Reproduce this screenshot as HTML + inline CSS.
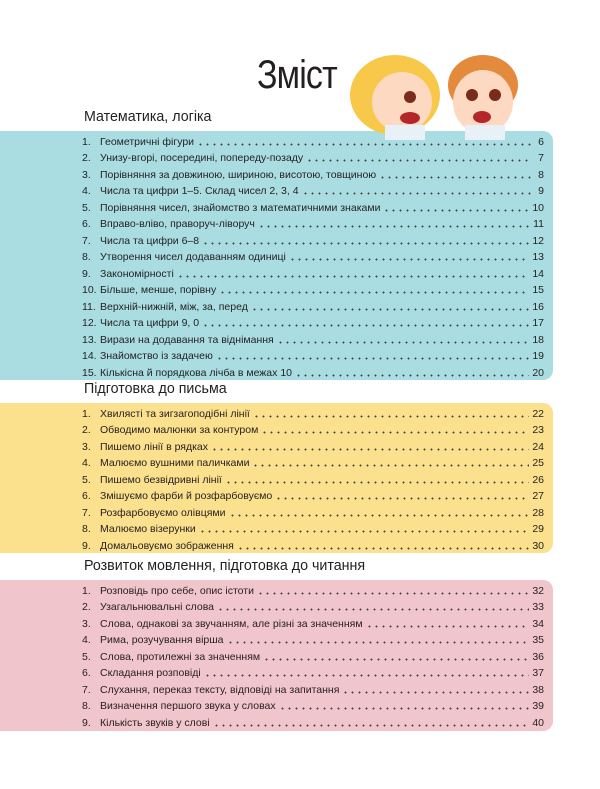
<!DOCTYPE html>
<html><head><meta charset="utf-8"><style>
body{margin:0;width:600px;height:789px;background:#fff;position:relative;overflow:hidden;font-family:"Liberation Sans","DejaVu Sans",sans-serif;color:#231f20}
.panel{position:absolute;left:0;width:553px;border-radius:0 10px 10px 0}
.h{position:absolute;left:84px;font-size:15px;color:#231f20;transform:scaleX(0.95);transform-origin:left}
.sec{position:absolute;left:82px;width:462px}
.r{display:flex;align-items:flex-end;height:16.5px;font-size:10.5px;line-height:13px}
.n{width:18px;flex:none}
.t{flex:none;white-space:nowrap}
.d{flex:1;height:3px;margin:0 3px 3px 3px;background:radial-gradient(circle,#444 0.8px,transparent 1.1px) 0 0/7px 3px repeat-x}
.p{flex:none;text-align:right;min-width:10px}
</style></head><body>
<div class="panel" style="top:131px;height:249px;background:#a9dde1"></div>
<div class="panel" style="top:403px;height:150px;background:#fbe08e"></div>
<div class="panel" style="top:580px;height:151px;background:#f1c5cc"></div>
<div style="position:absolute;left:257px;top:53px;font-size:40px;letter-spacing:-1px;transform:scaleX(0.85);transform-origin:left">Зміст</div>
<svg style="position:absolute;left:340px;top:40px" width="200" height="100">
<ellipse cx="55" cy="55" rx="45" ry="40" fill="#f7c84a"/>
<ellipse cx="62" cy="62" rx="30" ry="30" fill="#fcd9c0"/>
<circle cx="70" cy="57" r="6" fill="#7a2b1a"/>
<ellipse cx="70" cy="78" rx="10" ry="6" fill="#b3262a"/>
<rect x="45" y="85" width="40" height="15" fill="#e8f1f8"/>
<ellipse cx="143" cy="45" rx="35" ry="30" fill="#e48a3c"/>
<ellipse cx="143" cy="62" rx="30" ry="32" fill="#fcd9c0"/>
<circle cx="132" cy="55" r="6" fill="#7a2b1a"/><circle cx="155" cy="55" r="6" fill="#7a2b1a"/>
<ellipse cx="142" cy="77" rx="9" ry="6" fill="#b3262a"/>
<rect x="125" y="85" width="40" height="15" fill="#e8f1f8"/>
</svg>
<div class="h" style="top:108px">Математика, логіка</div>
<div class="sec" style="top:132px">
<div class="r"><span class="n">1.</span><span class="t">Геометричні фігури</span><span class="d"></span><span class="p">6</span></div>
<div class="r"><span class="n">2.</span><span class="t">Унизу-вгорі, посередині, попереду-позаду</span><span class="d"></span><span class="p">7</span></div>
<div class="r"><span class="n">3.</span><span class="t">Порівняння за довжиною, шириною, висотою, товщиною</span><span class="d"></span><span class="p">8</span></div>
<div class="r"><span class="n">4.</span><span class="t">Числа та цифри 1–5. Склад чисел 2, 3, 4</span><span class="d"></span><span class="p">9</span></div>
<div class="r"><span class="n">5.</span><span class="t">Порівняння чисел, знайомство з математичними знаками</span><span class="d"></span><span class="p">10</span></div>
<div class="r"><span class="n">6.</span><span class="t">Вправо-вліво, праворуч-ліворуч</span><span class="d"></span><span class="p">11</span></div>
<div class="r"><span class="n">7.</span><span class="t">Числа та цифри 6–8</span><span class="d"></span><span class="p">12</span></div>
<div class="r"><span class="n">8.</span><span class="t">Утворення чисел додаванням одиниці</span><span class="d"></span><span class="p">13</span></div>
<div class="r"><span class="n">9.</span><span class="t">Закономірності</span><span class="d"></span><span class="p">14</span></div>
<div class="r"><span class="n">10.</span><span class="t">Більше, менше, порівну</span><span class="d"></span><span class="p">15</span></div>
<div class="r"><span class="n">11.</span><span class="t">Верхній-нижній, між, за, перед</span><span class="d"></span><span class="p">16</span></div>
<div class="r"><span class="n">12.</span><span class="t">Числа та цифри 9, 0</span><span class="d"></span><span class="p">17</span></div>
<div class="r"><span class="n">13.</span><span class="t">Вирази на додавання та віднімання</span><span class="d"></span><span class="p">18</span></div>
<div class="r"><span class="n">14.</span><span class="t">Знайомство із задачею</span><span class="d"></span><span class="p">19</span></div>
<div class="r"><span class="n">15.</span><span class="t">Кількісна й порядкова лічба в межах 10</span><span class="d"></span><span class="p">20</span></div>
</div>
<div class="h" style="top:380px">Підготовка до письма</div>
<div class="sec" style="top:404px">
<div class="r"><span class="n">1.</span><span class="t">Хвилясті та зигзагоподібні лінії</span><span class="d"></span><span class="p">22</span></div>
<div class="r"><span class="n">2.</span><span class="t">Обводимо малюнки за контуром</span><span class="d"></span><span class="p">23</span></div>
<div class="r"><span class="n">3.</span><span class="t">Пишемо лінії в рядках</span><span class="d"></span><span class="p">24</span></div>
<div class="r"><span class="n">4.</span><span class="t">Малюємо вушними паличками</span><span class="d"></span><span class="p">25</span></div>
<div class="r"><span class="n">5.</span><span class="t">Пишемо безвідривні лінії</span><span class="d"></span><span class="p">26</span></div>
<div class="r"><span class="n">6.</span><span class="t">Змішуємо фарби й розфарбовуємо</span><span class="d"></span><span class="p">27</span></div>
<div class="r"><span class="n">7.</span><span class="t">Розфарбовуємо олівцями</span><span class="d"></span><span class="p">28</span></div>
<div class="r"><span class="n">8.</span><span class="t">Малюємо візерунки</span><span class="d"></span><span class="p">29</span></div>
<div class="r"><span class="n">9.</span><span class="t">Домальовуємо зображення</span><span class="d"></span><span class="p">30</span></div>
</div>
<div class="h" style="top:557px">Розвиток мовлення, підготовка до читання</div>
<div class="sec" style="top:581px">
<div class="r"><span class="n">1.</span><span class="t">Розповідь про себе, опис істоти</span><span class="d"></span><span class="p">32</span></div>
<div class="r"><span class="n">2.</span><span class="t">Узагальнювальні слова</span><span class="d"></span><span class="p">33</span></div>
<div class="r"><span class="n">3.</span><span class="t">Слова, однакові за звучанням, але різні за значенням</span><span class="d"></span><span class="p">34</span></div>
<div class="r"><span class="n">4.</span><span class="t">Рима, розучування вірша</span><span class="d"></span><span class="p">35</span></div>
<div class="r"><span class="n">5.</span><span class="t">Слова, протилежні за значенням</span><span class="d"></span><span class="p">36</span></div>
<div class="r"><span class="n">6.</span><span class="t">Складання розповіді</span><span class="d"></span><span class="p">37</span></div>
<div class="r"><span class="n">7.</span><span class="t">Слухання, переказ тексту, відповіді на запитання</span><span class="d"></span><span class="p">38</span></div>
<div class="r"><span class="n">8.</span><span class="t">Визначення першого звука у словах</span><span class="d"></span><span class="p">39</span></div>
<div class="r"><span class="n">9.</span><span class="t">Кількість звуків у слові</span><span class="d"></span><span class="p">40</span></div>
</div>
</body></html>
